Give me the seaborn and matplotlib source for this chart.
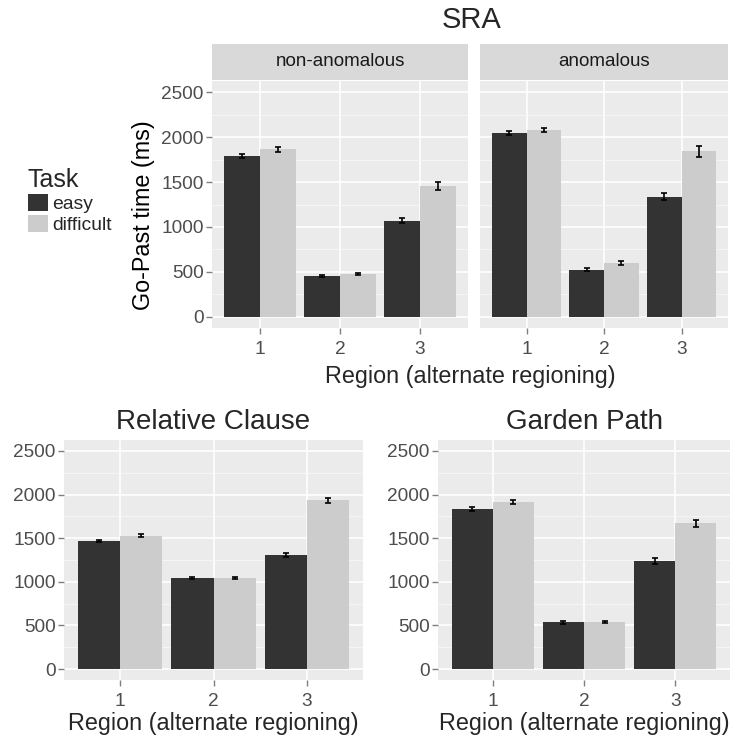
import matplotlib
matplotlib.use("Agg")
import matplotlib.pyplot as plt
import seaborn as sns
import pandas as pd
from matplotlib.ticker import MultipleLocator

regions = ["1", "2", "3"]
tasks = ["easy", "difficult"]
task_colors = {"easy": "#333333", "difficult": "#CCCCCC"}

# Go-past times (ms) and standard errors per region
sra_nonanom_easy = [1792, 452, 1070]
sra_nonanom_difficult = [1863, 478, 1455]
sra_nonanom_easy_se = [20, 10, 25]
sra_nonanom_difficult_se = [25, 12, 40]

sra_anom_easy = [2048, 526, 1337]
sra_anom_difficult = [2081, 600, 1844]
sra_anom_easy_se = [25, 12, 40]
sra_anom_difficult_se = [25, 20, 60]

rc_easy = [1468, 1045, 1308]
rc_difficult = [1529, 1045, 1933]
rc_easy_se = [15, 15, 25]
rc_difficult_se = [15, 15, 30]

gp_easy = [1833, 534, 1239]
gp_difficult = [1917, 538, 1673]
gp_easy_se = [20, 15, 30]
gp_difficult_se = [20, 15, 40]

sns.set_theme(style="darkgrid")
plt.rcParams["font.family"] = ["Liberation Sans", "DejaVu Sans"]

W, H = 731, 738
fig = plt.figure(figsize=(W / 100, H / 100), dpi=100)
fig.patch.set_facecolor("white")

TICK_COLOR = "#4D4D4D"
BG = "#EBEBEB"
TICK_SIZE = 13.7
AXIS_TITLE = 16.8
PANEL_TITLE = 20


def px_axes(x0, y0, x1, y1):
    return fig.add_axes([x0 / W, 1 - y1 / H, (x1 - x0) / W, (y1 - y0) / H])


def draw_panel(ax, easy, difficult, easy_se, difficult_se, show_y=True):
    df = pd.DataFrame({
        "Region": regions * 2,
        "Task": ["easy"] * 3 + ["difficult"] * 3,
        "time": easy + difficult,
    })
    sns.barplot(data=df, x="Region", y="time", hue="Task", order=regions,
                hue_order=tasks, palette=task_colors, width=0.9, saturation=1,
                errorbar=None, linewidth=0, legend=False, ax=ax)
    for cont, errs in zip(ax.containers, [easy_se, difficult_se]):
        xs = [b.get_x() + b.get_width() / 2 for b in cont]
        hs = [b.get_height() for b in cont]
        ax.errorbar(xs, hs, yerr=errs, fmt="none", ecolor="black",
                    elinewidth=1.2, capsize=2.2, capthick=1.2, zorder=5)
    ax.set_facecolor(BG)
    ax.set_xlim(-0.6, 2.6)
    ax.set_ylim(-125, 2625)
    ax.yaxis.set_major_locator(MultipleLocator(500))
    ax.yaxis.set_minor_locator(MultipleLocator(250))
    ax.grid(which="major", color="white", linewidth=1.2)
    ax.grid(which="minor", axis="y", color="#F7F7F7", linewidth=0.6)
    ax.set_axisbelow(True)
    for s in ax.spines.values():
        s.set_visible(False)
    ax.tick_params(axis="both", which="major", length=4, width=1,
                   color="#7F7F7F", labelcolor=TICK_COLOR,
                   labelsize=TICK_SIZE, pad=2)
    ax.tick_params(axis="both", which="minor", length=0)
    ax.tick_params(axis="x", bottom=True, pad=5.5)
    ax.tick_params(axis="y", left=True)
    if not show_y:
        ax.tick_params(axis="y", left=False, labelleft=False)
    ax.set_xlabel("")
    ax.set_ylabel("")


def strip(x0, x1, y0, y1, label):
    sa = px_axes(x0, y0, x1, y1)
    sa.set_facecolor("#D9D9D9")
    sa.set_xticks([])
    sa.set_yticks([])
    for s in sa.spines.values():
        s.set_visible(False)
    sa.text(0.5, 0.5, label, ha="center", va="center", fontsize=13.5,
            color="#1A1A1A", transform=sa.transAxes)


# SRA facets
ax1 = px_axes(212, 81, 468, 328)
draw_panel(ax1, sra_nonanom_easy, sra_nonanom_difficult,
           sra_nonanom_easy_se, sra_nonanom_difficult_se)
ax1.set_ylabel("Go-Past time (ms)", fontsize=AXIS_TITLE, color="black")
ax1.yaxis.set_label_coords(-57 / 256, 0.455)
strip(212, 468, 44, 80, "non-anomalous")

ax2 = px_axes(480, 81, 728, 328)
draw_panel(ax2, sra_anom_easy, sra_anom_difficult,
           sra_anom_easy_se, sra_anom_difficult_se, show_y=False)
strip(480, 728, 44, 80, "anomalous")

fig.text(472 / W, 1 - 20 / H, "SRA", ha="center", va="center",
         fontsize=PANEL_TITLE + 1)
fig.text(470 / W, 1 - 376 / H, "Region (alternate regioning)", ha="center",
         va="center", fontsize=AXIS_TITLE)

# Task legend
handles = [plt.Rectangle((0, 0), 1, 1, facecolor=task_colors[t], edgecolor="none")
           for t in tasks]
leg = fig.legend(handles, tasks, title="Task", loc="upper left",
                 bbox_to_anchor=(28 / W, 1 - 168 / H), frameon=False,
                 fontsize=13.9, title_fontsize=18, handlelength=1.04,
                 handleheight=1.04, handletextpad=0.2, labelspacing=0.08,
                 borderaxespad=0, borderpad=0, alignment="left")

# Relative clause
ax3 = px_axes(64, 440, 363, 680)
draw_panel(ax3, rc_easy, rc_difficult, rc_easy_se, rc_difficult_se)
ax3.set_title("Relative Clause", fontsize=PANEL_TITLE, pad=8)
ax3.set_xlabel("Region (alternate regioning)", fontsize=AXIS_TITLE, labelpad=1)

# Garden path
ax4 = px_axes(438, 440, 730, 680)
draw_panel(ax4, gp_easy, gp_difficult, gp_easy_se, gp_difficult_se)
ax4.set_title("Garden Path", fontsize=PANEL_TITLE, pad=8)
ax4.set_xlabel("Region (alternate regioning)", fontsize=AXIS_TITLE, labelpad=1)

fig.savefig("out.png", dpi=100)
